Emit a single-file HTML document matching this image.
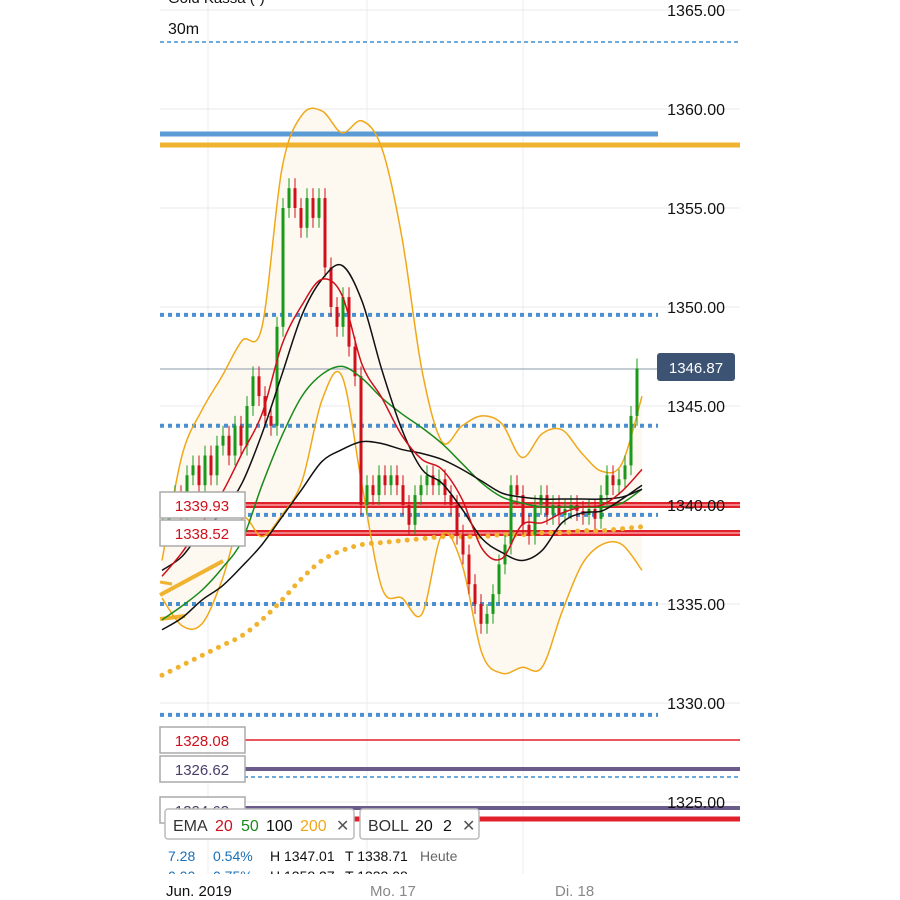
<!DOCTYPE html>
<html><head><meta charset="utf-8"><style>
body{margin:0;background:#fff;width:900px;height:900px;overflow:hidden;font-family:"Liberation Sans",sans-serif}
svg{position:absolute;left:0;top:0}
</style></head><body>
<svg id="c" width="900" height="900"></svg>
<script>
const closes=[1339,1340,1340.5,1339.5,1341.5,1342,1341,1342.5,1341.5,1343,1343.5,1342.5,1344,1343,1345,1346.5,1345.5,1344.5,1344,1349,1355,1356,1355,1354,1355.5,1354.5,1355.5,1352,1350,1349,1350.5,1348,1346.5,1340,1341,1340.5,1341.5,1341,1341.5,1341,1340,1339,1340.5,1341,1341.5,1341,1341.3,1340.5,1340,1338.5,1337.5,1336,1335,1334,1334.5,1335.5,1337,1338,1341,1340.5,1339,1338.5,1340,1340.5,1339.5,1340,1339.5,1339.8,1340,1339.7,1339.5,1339.8,1339.3,1340.5,1341.5,1341,1341.3,1342,1344.5,1346.9];
const wickExt=0.5;
const ema20=[1336.4,1337.6,1339.1,1340.6,1342.6,1344.6,1348.1,1350.1,1351.4,1350.6,1347.1,1345.4,1343.5,1342.3,1341.8,1340.3,1337.8,1337.3,1339.0,1339.1,1339.6,1339.9,1340.0,1340.7,1341.8];
const ema50=[1334.2,1334.9,1335.7,1336.8,1338.2,1341.0,1343.5,1345.5,1346.6,1347.0,1346.4,1345.4,1344.6,1343.9,1343.1,1342.1,1341.1,1340.4,1340.1,1339.9,1339.9,1339.9,1339.9,1340.1,1340.8];
const bollMid=[1336.7,1337.4,1338.7,1339.6,1341.1,1343.6,1346.6,1349.6,1351.4,1352.1,1350.3,1346.8,1343.8,1341.8,1341.1,1339.8,1338.3,1337.6,1337.2,1337.7,1339.1,1339.6,1339.7,1340.3,1341.0];
const ema100=[1333.7,1334.3,1335.2,1335.9,1336.9,1338.0,1339.4,1340.8,1342.2,1342.8,1343.2,1343.1,1342.8,1342.6,1342.3,1341.8,1341.2,1340.6,1340.4,1340.3,1340.3,1340.3,1340.3,1340.4,1340.8];
const ema200=[1331.4,1331.9,1332.4,1332.9,1333.4,1334.2,1335.2,1336.3,1337.2,1337.7,1338.0,1338.1,1338.2,1338.3,1338.4,1338.4,1338.4,1338.5,1338.5,1338.6,1338.6,1338.7,1338.7,1338.8,1338.9];
const bollUp=[1337.2,1342.5,1344.8,1346.5,1348.3,1349.0,1357.0,1359.7,1359.9,1358.8,1359.4,1358.0,1353.5,1346.8,1343.2,1344.0,1344.5,1344.1,1342.4,1343.6,1343.8,1342.6,1341.7,1342.1,1345.5];
const bollLo=[1335.3,1333.9,1334.0,1336.2,1339.3,1338.4,1339.5,1341.2,1345.3,1346.5,1341.0,1335.8,1335.3,1334.5,1338.5,1337.0,1332.5,1331.5,1331.8,1331.8,1334.6,1337.0,1338.0,1338.0,1336.7];
const priceTicks=[1365,1360,1355,1350,1345,1340,1335,1330,1325];
const dottedLevels=[1349.6,1344.0,1339.5,1335.0,1329.4];
const timeLabels=["Jun. 2019","Mo. 17","Di. 18"];
const lastPrice=1346.87;

const NS="http://www.w3.org/2000/svg",svg=document.getElementById('c');
const Y=p=>10+(1365-p)*19.8;
const XC=i=>163+i*6;
const XI=k=>162+k*20;
function el(t,a,name,inter){const e=document.createElementNS(NS,t);for(const k in a)e.setAttribute(k,a[k]);


svg.appendChild(e);return e;}
function txt(x,y,s,fill,size,name,anchor){const t=el('text',{x:x,y:y,fill:fill,'font-size':size,'font-family':'Liberation Sans, sans-serif','text-anchor':anchor||'start'},name,false);t.textContent=s;return t;}
function smooth(arr,rev){const pts=arr.map((v,k)=>[XI(k),Y(v)]);if(rev)pts.reverse();
let s='';for(let i=0;i<pts.length;i++){if(i===0){s+='M'+pts[0][0]+','+pts[0][1];continue;}
const p0=pts[Math.max(0,i-2)],p1=pts[i-1],p2=pts[i],p3=pts[Math.min(pts.length-1,i+1)];
const c1x=p1[0]+(p2[0]-p0[0])/6,c1y=p1[1]+(p2[1]-p0[1])/6,c2x=p2[0]-(p3[0]-p1[0])/6,c2y=p2[1]-(p3[1]-p1[1])/6;
s+='C'+c1x+','+c1y+' '+c2x+','+c2y+' '+p2[0]+','+p2[1];}return s;}
// grid
priceTicks.forEach(p=>el('line',{x1:160,x2:740,y1:Y(p),y2:Y(p),stroke:'#e8e8e8','stroke-width':1},'grid-line',false));
[208,367,523].forEach(x=>el('line',{x1:x,x2:x,y1:0,y2:880,stroke:'#ececec','stroke-width':1},'grid-line-vertical',false));
// bollinger fill
const fillD=smooth(bollUp,false)+smooth(bollLo,true).replace('M','L')+'Z';
el('path',{d:fillD,fill:'#fdf8f0',stroke:'none'},'bollinger-fill',false);
// horizontal levels
el('line',{x1:160,x2:740,y1:42,y2:42,stroke:'#3d8fd0','stroke-width':1.5,'stroke-dasharray':'4,3'},'dashed-level',false);
el('line',{x1:160,x2:658,y1:134,y2:134,stroke:'#5b9bd5','stroke-width':5},'blue-level',false);
el('line',{x1:160,x2:740,y1:145,y2:145,stroke:'#f0b330','stroke-width':5},'orange-level',false);
dottedLevels.forEach(p=>el('line',{x1:160,x2:658,y1:Y(p),y2:Y(p),stroke:'#4a90d0','stroke-width':4,'stroke-dasharray':'4,4'},'dotted-level',false));
el('line',{x1:160,x2:658,y1:Y(lastPrice),y2:Y(lastPrice),stroke:'#8a9aae','stroke-width':1},'last-price-line',false);
[505,533].forEach(y=>{el('line',{x1:245,x2:740,y1:y,y2:y,stroke:'#e0202a','stroke-width':6},'red-level',false);
el('line',{x1:245,x2:740,y1:y,y2:y,stroke:'#f8a0a0','stroke-width':1.5},'red-level-core',false);});
el('line',{x1:245,x2:740,y1:740,y2:740,stroke:'#e0202a','stroke-width':1.5},'red-level-thin',false);
el('line',{x1:245,x2:740,y1:769,y2:769,stroke:'#6b5b8a','stroke-width':4},'purple-level',false);
el('line',{x1:160,x2:740,y1:777,y2:777,stroke:'#3d8fd0','stroke-width':1.5,'stroke-dasharray':'4,3'},'dashed-level',false);
el('line',{x1:245,x2:740,y1:808,y2:808,stroke:'#6b5b8a','stroke-width':4},'purple-level',false);
el('line',{x1:245,x2:740,y1:819,y2:819,stroke:'#e0202a','stroke-width':5},'red-level',false);
// orange trend lines
el('line',{x1:160,y1:595,x2:223,y2:561,stroke:'#f0b330','stroke-width':4},'trend-line',false);
el('line',{x1:160,y1:619,x2:185,y2:616,stroke:'#f0b330','stroke-width':4},'trend-line',false);
el('line',{x1:160,y1:582,x2:172,y2:584,stroke:'#f0b330','stroke-width':3},'trend-line',false);
// ema200 dotted
el('path',{d:smooth(ema200),fill:'none',stroke:'#f0b330','stroke-width':5,'stroke-linecap':'round','stroke-dasharray':'0,9'},'ema200-line',false);
function line(arr,col,w,name){el('path',{d:smooth(arr),fill:'none',stroke:col,'stroke-width':w,'stroke-linejoin':'round'},name,false);}
line(bollUp,'#f0a818',1.5,'bollinger-upper');
line(bollLo,'#f0a818',1.5,'bollinger-lower');
// candles
closes.forEach((c,i)=>{const o=i?closes[i-1]:c-0.5;const up=c>=o;const col=up?'#1a9a1a':'#d0101b';
const hi=Math.max(o,c)+wickExt,lo=Math.min(o,c)-wickExt;
el('line',{x1:XC(i),x2:XC(i),y1:Y(hi),y2:Y(lo),stroke:col,'stroke-width':1},'candle-wick',false);
el('rect',{x:XC(i)-1.5,y:Y(Math.max(o,c)),width:3,height:Math.max(1,Math.abs(Y(o)-Y(c))),fill:col},'candle-body',true);});
line(ema50,'#1a8a1a',1.5,'ema50-line');
line(ema100,'#111',1.5,'ema100-line');
line(bollMid,'#111',1.5,'bollinger-middle');
line(ema20,'#d0101b',1.5,'ema20-line');
// price labels
priceTicks.forEach(p=>txt(725,Y(p)+6,p.toFixed(2),'#111',16,'price-tick-label','end'));
el('rect',{x:657,y:353,width:78,height:28,rx:3,fill:'#3d5373'},'last-price-badge',false);
txt(696,373,lastPrice.toFixed(2),'#fff',15,'last-price-label','middle');
// level label boxes
[[492,'1339.93','#d0101b'],[520,'1338.52','#d0101b'],[727,'1328.08','#d0101b'],[756,'1326.62','#4a3d6a'],[797,'1324.63','#4a3d6a']].forEach(b=>{
el('rect',{x:160,y:b[0],width:85,height:26,fill:'#fff',stroke:'#aaa','stroke-width':1.5},'level-label-box',true);
txt(202,b[0]+19,b[1],b[2],15,'level-label','middle');});
// titles
txt(168,3,'Gold Kassa (-)','#111',15,'chart-title');
txt(168,34,'30m','#111',16,'timeframe-label');
// legends
el('rect',{x:165,y:809,width:189,height:30,rx:3,fill:'#fff',stroke:'#bbb','stroke-width':1.5},'ema-legend',true);
el('rect',{x:360,y:809,width:119,height:30,rx:3,fill:'#fff',stroke:'#bbb','stroke-width':1.5},'boll-legend',true);
txt(173,831,'EMA','#333',16,'ema-legend-title');txt(215,831,'20','#d0101b',16,'ema20-legend');
txt(241,831,'50','#1a8a1a',16,'ema50-legend');txt(266,831,'100','#111',16,'ema100-legend');
txt(300,831,'200','#f0a818',16,'ema200-legend');txt(336,831,'✕','#555',16,'ema-remove');
txt(368,831,'BOLL','#333',16,'boll-legend-title');txt(415,831,'20','#111',16,'boll-period');
txt(443,831,'2','#111',16,'boll-dev');txt(462,831,'✕','#555',16,'boll-remove');
txt(168,861,'7.28','#1a6fb5',14,'change-value');txt(213,861,'0.54%','#1a6fb5',14,'change-pct');
txt(270,861,'H 1347.01','#111',14,'high-value');txt(345,861,'T 1338.71','#111',14,'low-value');txt(420,861,'Heute','#666',14,'period-label');
txt(168,881,'0.00','#1a6fb5',14,'change-value-2');txt(213,881,'0.75%','#1a6fb5',14,'change-pct-2');
txt(270,881,'H 1358.27','#111',14,'high-value-2');txt(345,881,'T 1333.08','#111',14,'low-value-2');
el('rect',{x:150,y:874,width:600,height:26,fill:'#fff'},'time-axis',false);
txt(166,896,timeLabels[0],'#111',15,'time-label');txt(370,896,timeLabels[1],'#888',15,'time-label');txt(555,896,timeLabels[2],'#888',15,'time-label');
</script></body></html>
